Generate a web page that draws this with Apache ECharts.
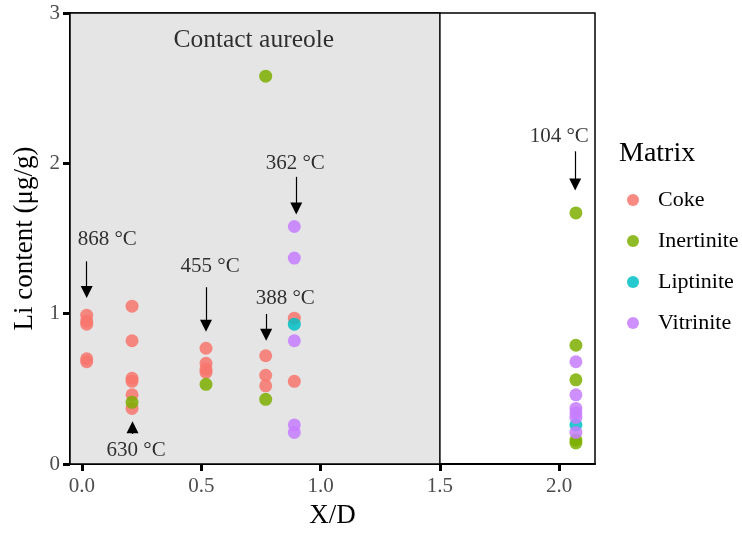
<!DOCTYPE html>
<html>
<head>
<meta charset="utf-8">
<script src="https://cdn.jsdelivr.net/npm/echarts@6/dist/echarts.min.js"></script>
<style>
  html, body { margin: 0; padding: 0; background: #ffffff; }
  #chart { width: 742px; height: 534px; }
</style>
</head>
<body>
<div id="chart"></div>
<script>
// Li content of coal matrices against distance from the intrusion (X/D)
const matrices = ['Coke', 'Inertinite', 'Liptinite', 'Vitrinite'];
const matrixColors = ['#F8766D', '#7CAE00', '#00BFC4', '#C77CFF'];

const cokeX = [0.02, 0.02, 0.02, 0.02, 0.02, 0.21, 0.21, 0.21, 0.21, 0.21, 0.21, 0.52, 0.52, 0.52, 0.52, 0.77, 0.77, 0.77, 0.89, 0.89];
const cokeY = [0.99, 0.95, 0.93, 0.70, 0.68, 1.05, 0.82, 0.57, 0.55, 0.46, 0.37, 0.77, 0.67, 0.63, 0.61, 0.72, 0.59, 0.52, 0.97, 0.55];

const inertiniteX = [0.21, 0.52, 0.77, 0.77, 2.07, 2.07, 2.07, 2.07, 2.07];
const inertiniteY = [0.41, 0.53, 2.58, 0.43, 1.67, 0.79, 0.56, 0.16, 0.14];

const liptiniteX = [0.89, 2.07];
const liptiniteY = [0.93, 0.26];

const vitriniteX = [0.89, 0.89, 0.89, 0.89, 0.89, 2.07, 2.07, 2.07, 2.07, 2.07, 2.07];
const vitriniteY = [1.58, 1.37, 0.82, 0.26, 0.21, 0.68, 0.46, 0.37, 0.34, 0.31, 0.21];

// Temperature notes with their arrows (data units)
const noteText = ['868 °C', '630 °C', '455 °C', '388 °C', '362 °C', '104 °C'];
const noteX = [0.106, 0.227, 0.537, 0.852, 0.894, 2.0];
const noteY = [1.494, 0.093, 1.315, 1.104, 1.996, 2.18];
const arrowX = [0.02, 0.212, 0.52, 0.772, 0.898, 2.067];
const arrowFrom = [1.348, 0.20, 1.176, 0.998, 1.91, 2.08];
const arrowTip = [1.104, 0.284, 0.879, 0.82, 1.66, 1.82];

// Contact aureole zone
const aureoleX = [-0.05, 1.5];
const aureoleY = [0, 3];
const aureoleLabel = 'Contact aureole';
const aureoleLabelPos = [0.72, 2.82];

const xTicks = [0, 0.5, 1.0, 1.5, 2.0];
const serif = '"Liberation Serif", "Times New Roman", serif';

const seriesXY = [
  [cokeX, cokeY],
  [inertiniteX, inertiniteY],
  [liptiniteX, liptiniteY],
  [vitriniteX, vitriniteY]
];

const HEAD = 12;            // arrow head size in px
const HALF_HEAD = 0.04;     // half head length in y data units

const arrowLines = arrowX.map((x, i) => {
  const dir = arrowTip[i] < arrowFrom[i] ? 1 : -1;
  return [
    { coord: [x, arrowFrom[i]] },
    { coord: [x, arrowTip[i] + dir * HALF_HEAD] }
  ];
});

const series = matrices.map((name, k) => ({
  name: name,
  type: 'scatter',
  symbol: 'circle',
  symbolSize: 13,
  z: 3,
  itemStyle: { color: matrixColors[k], opacity: 0.85 },
  data: seriesXY[k][0].map((x, i) => [x, seriesXY[k][1][i]])
}));

series.push({
  name: 'zone',
  type: 'scatter',
  data: [],
  silent: true,
  markArea: {
    silent: true,
    itemStyle: { color: '#e5e5e5', borderColor: '#000', borderWidth: 1.5 },
    data: [[{ coord: [aureoleX[0], aureoleY[0]] }, { coord: [aureoleX[1], aureoleY[1]] }]]
  },
  markLine: {
    silent: true,
    symbol: ['none', 'triangle'],
    symbolSize: HEAD,
    label: { show: false },
    lineStyle: { color: '#000', width: 1.2, type: 'solid' },
    itemStyle: { color: '#000' },
    emphasis: { disabled: true },
    data: arrowLines
  }
});

series.push({
  name: 'notes',
  type: 'scatter',
  symbolSize: 0,
  silent: true,
  z: 4,
  itemStyle: { color: '#000' },
  label: {
    show: true,
    position: 'inside',
    color: '#000',
    textBorderWidth: 0,
    fontFamily: serif,
    fontSize: 21,
    formatter: p => p.data.text
  },
  data: noteText.map((t, i) => ({ value: [noteX[i], noteY[i]], text: t }))
    .concat([{ value: aureoleLabelPos, text: aureoleLabel, label: { fontSize: 25.5 } }])
});

const chart = echarts.init(document.getElementById('chart'), null, { renderer: 'canvas' });
chart.setOption({
  animation: false,
  backgroundColor: '#ffffff',
  title: {
    text: 'Matrix',
    left: 614,
    top: 135,
    textStyle: { fontFamily: serif, fontSize: 28, fontWeight: 'normal', color: '#000' }
  },
  legend: {
    data: matrices,
    orient: 'vertical',
    left: 622,
    top: 184,
    itemWidth: 12,
    itemHeight: 12,
    itemGap: 19,
    icon: 'circle',
    textStyle: { fontFamily: serif, fontSize: 22, color: '#000', padding: [0, 0, 0, 14] }
  },
  grid: {
    left: 70,
    top: 13,
    right: 147,
    bottom: 67,
    show: true,
    borderColor: '#000',
    borderWidth: 1.5,
    backgroundColor: 'transparent'
  },
  xAxis: {
    type: 'value',
    min: -0.05,
    max: 2.15,
    name: 'X/D',
    nameLocation: 'middle',
    nameGap: 38,
    nameTextStyle: { fontFamily: serif, fontSize: 27, color: '#000' },
    splitLine: { show: false },
    axisLine: { show: true, onZero: false, lineStyle: { color: '#000', width: 2 } },
    axisTick: { show: true, length: 7, customValues: xTicks, lineStyle: { color: '#000', width: 3 } },
    axisLabel: {
      customValues: xTicks,
      margin: 12,
      fontFamily: serif,
      fontSize: 21,
      color: '#4d4d4d',
      formatter: v => Number(v).toFixed(1)
    }
  },
  yAxis: {
    type: 'value',
    min: 0,
    max: 3,
    interval: 1,
    name: 'Li content (μg/g)',
    nameLocation: 'middle',
    nameGap: 32,
    nameTextStyle: { fontFamily: serif, fontSize: 27, color: '#000' },
    splitLine: { show: false },
    axisLine: { show: true, onZero: false, lineStyle: { color: '#000', width: 2 } },
    axisTick: { show: true, length: 7, lineStyle: { color: '#000', width: 3 } },
    axisLabel: { margin: 10, fontFamily: serif, fontSize: 21, color: '#4d4d4d' }
  },
  series: series
});
</script>
</body>
</html>
